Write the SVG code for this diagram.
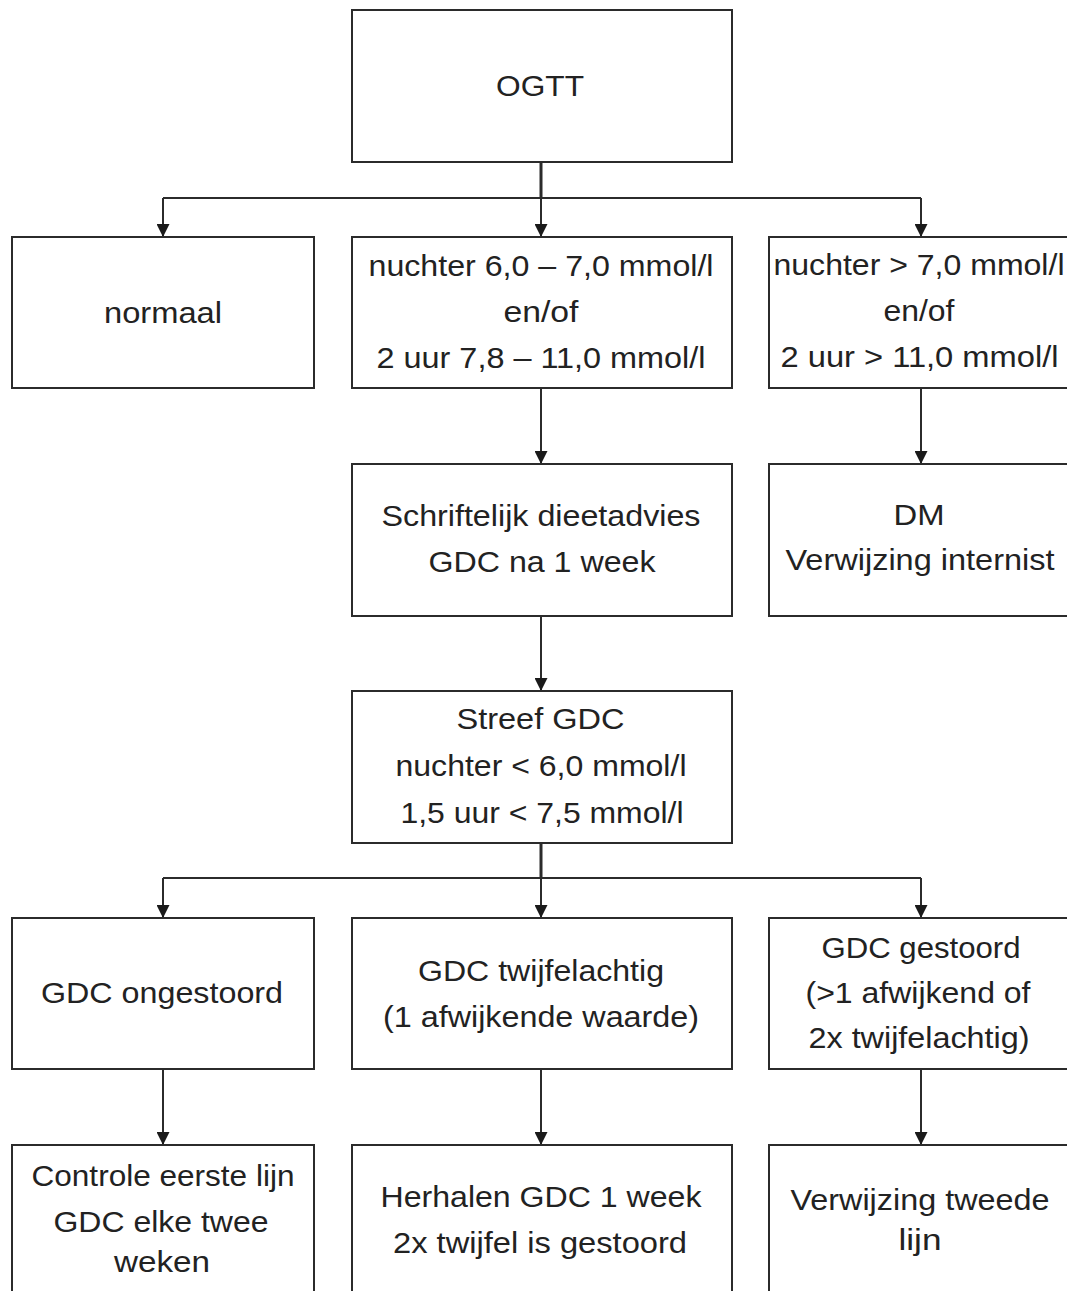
<svg xmlns="http://www.w3.org/2000/svg" width="1067" height="1291" viewBox="0 0 1067 1291">
<defs>
<style>
.box{fill:#fff;stroke:#2b2b2b;stroke-width:2}
.t{font-family:"Liberation Sans",Arial,sans-serif;font-size:30px;fill:#222;text-anchor:middle}
.c{fill:none;stroke:#2b2b2b;stroke-width:2}
.trunk{fill:none;stroke:#2b2b2b;stroke-width:3}
</style>
<marker id="ah" markerUnits="userSpaceOnUse" markerWidth="13" markerHeight="13" refX="13" refY="6.5" orient="auto" viewBox="0 0 13 13">
<path d="M0,0 L13,6.5 L0,13 z" fill="#1a1a1a"/>
</marker>
</defs>
<rect width="1067" height="1291" fill="#fff"/>

<g id="connectors">
<path class="trunk" d="M541,162 V198"/>
<path class="c" d="M163,198 H921"/>
<path class="c" d="M163,198 V237" marker-end="url(#ah)"/>
<path class="c" d="M541,198 V237" marker-end="url(#ah)"/>
<path class="c" d="M921,198 V237" marker-end="url(#ah)"/>
<path class="c" d="M541,388 V464" marker-end="url(#ah)"/>
<path class="c" d="M921,388 V464" marker-end="url(#ah)"/>
<path class="c" d="M541,616 V691" marker-end="url(#ah)"/>
<path class="trunk" d="M541,843 V878"/>
<path class="c" d="M163,878 H921"/>
<path class="c" d="M163,878 V918" marker-end="url(#ah)"/>
<path class="c" d="M541,878 V918" marker-end="url(#ah)"/>
<path class="c" d="M921,878 V918" marker-end="url(#ah)"/>
<path class="c" d="M163,1069 V1145" marker-end="url(#ah)"/>
<path class="c" d="M541,1069 V1145" marker-end="url(#ah)"/>
<path class="c" d="M921,1069 V1145" marker-end="url(#ah)"/>
</g>

<g id="ogtt">
<rect class="box" x="352" y="10" width="380" height="152"/>
<text class="t" x="540" y="96" textLength="88" lengthAdjust="spacingAndGlyphs">OGTT</text>
</g>

<g id="normaal">
<rect class="box" x="12" y="237" width="302" height="151"/>
<text class="t" x="163" y="323" textLength="118" lengthAdjust="spacingAndGlyphs">normaal</text>
</g>

<g id="grens">
<rect class="box" x="352" y="237" width="380" height="151"/>
<text class="t" x="541" y="276" textLength="345" lengthAdjust="spacingAndGlyphs">nuchter 6,0 – 7,0 mmol/l</text>
<text class="t" x="541" y="322" textLength="75" lengthAdjust="spacingAndGlyphs">en/of</text>
<text class="t" x="541" y="368" textLength="329" lengthAdjust="spacingAndGlyphs">2 uur 7,8 – 11,0 mmol/l</text>
</g>

<g id="hoog">
<rect class="box" x="769" y="237" width="320" height="151"/>
<text class="t" x="919" y="275" textLength="291" lengthAdjust="spacingAndGlyphs">nuchter &gt; 7,0 mmol/l</text>
<text class="t" x="919" y="321" textLength="71" lengthAdjust="spacingAndGlyphs">en/of</text>
<text class="t" x="919.5" y="367" textLength="278" lengthAdjust="spacingAndGlyphs">2 uur &gt; 11,0 mmol/l</text>
</g>

<g id="dieet">
<rect class="box" x="352" y="464" width="380" height="152"/>
<text class="t" x="541" y="526" textLength="319" lengthAdjust="spacingAndGlyphs">Schriftelijk dieetadvies</text>
<text class="t" x="542" y="572" textLength="227" lengthAdjust="spacingAndGlyphs">GDC na 1 week</text>
</g>

<g id="dm">
<rect class="box" x="769" y="464" width="320" height="152"/>
<text class="t" x="919" y="525" textLength="51" lengthAdjust="spacingAndGlyphs">DM</text>
<text class="t" x="920" y="570" textLength="269" lengthAdjust="spacingAndGlyphs">Verwijzing internist</text>
</g>

<g id="streef">
<rect class="box" x="352" y="691" width="380" height="152"/>
<text class="t" x="540.5" y="729" textLength="168" lengthAdjust="spacingAndGlyphs">Streef GDC</text>
<text class="t" x="541" y="776" textLength="291" lengthAdjust="spacingAndGlyphs">nuchter &lt; 6,0 mmol/l</text>
<text class="t" x="542" y="823" textLength="283" lengthAdjust="spacingAndGlyphs">1,5 uur &lt; 7,5 mmol/l</text>
</g>

<g id="ongestoord">
<rect class="box" x="12" y="918" width="302" height="151"/>
<text class="t" x="162" y="1003" textLength="242" lengthAdjust="spacingAndGlyphs">GDC ongestoord</text>
</g>

<g id="twijfel">
<rect class="box" x="352" y="918" width="380" height="151"/>
<text class="t" x="541" y="981" textLength="246" lengthAdjust="spacingAndGlyphs">GDC twijfelachtig</text>
<text class="t" x="541" y="1027" textLength="316" lengthAdjust="spacingAndGlyphs">(1 afwijkende waarde)</text>
</g>

<g id="gestoord">
<rect class="box" x="769" y="918" width="320" height="151"/>
<text class="t" x="921" y="958" textLength="199" lengthAdjust="spacingAndGlyphs">GDC gestoord</text>
<text class="t" x="918" y="1003" textLength="225" lengthAdjust="spacingAndGlyphs">(&gt;1 afwijkend of</text>
<text class="t" x="919" y="1048" textLength="221" lengthAdjust="spacingAndGlyphs">2x twijfelachtig)</text>
</g>

<g id="controle">
<rect class="box" x="12" y="1145" width="302" height="170"/>
<text class="t" x="163" y="1186" textLength="263" lengthAdjust="spacingAndGlyphs">Controle eerste lijn</text>
<text class="t" x="161" y="1232" textLength="215" lengthAdjust="spacingAndGlyphs">GDC elke twee</text>
<text class="t" x="162" y="1272" textLength="96" lengthAdjust="spacingAndGlyphs">weken</text>
</g>

<g id="herhalen">
<rect class="box" x="352" y="1145" width="380" height="170"/>
<text class="t" x="541" y="1207" textLength="321" lengthAdjust="spacingAndGlyphs">Herhalen GDC 1 week</text>
<text class="t" x="540" y="1253" textLength="294" lengthAdjust="spacingAndGlyphs">2x twijfel is gestoord</text>
</g>

<g id="tweedelijn">
<rect class="box" x="769" y="1145" width="320" height="170"/>
<text class="t" x="920" y="1210" textLength="259" lengthAdjust="spacingAndGlyphs">Verwijzing tweede</text>
<text class="t" x="920" y="1250" textLength="43" lengthAdjust="spacingAndGlyphs">lijn</text>
</g>
</svg>
